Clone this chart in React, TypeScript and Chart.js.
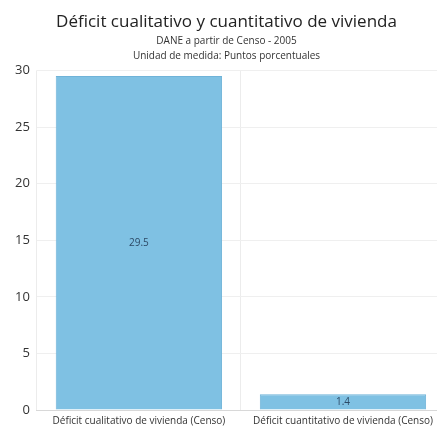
import React, { useEffect, useRef } from "react";
import { Chart, registerables } from "chart.js";

Chart.register(...registerables);

const categories = ["Déficit cualitativo de vivienda (Censo)", "Déficit cuantitativo de vivienda (Censo)"];
const values = [29.5, 1.4];
const valueLabels = ["29.5", "1.4"];
const titleText = "Déficit cualitativo y cuantitativo de vivienda";
const subtitleLines = ["DANE a partir de Censo - 2005", "Unidad de medida: Puntos porcentuales"];

const labelPlugin = {
  id: "barLabels",
  afterDatasetsDraw(chart: any) {
    const ctx = chart.ctx;
    const meta = chart.getDatasetMeta(0);
    ctx.save();
    ctx.font = "10px 'Open Sans', sans-serif";
    ctx.fillStyle = "#2d4a66";
    ctx.textAlign = "center";
    ctx.textBaseline = "middle";
    meta.data.forEach((bar: any, i: number) => {
      const y = (bar.y + bar.base) / 2;
      ctx.fillText(valueLabels[i], bar.x, y);
    });
    ctx.restore();
  },
};

export default function App() {
  const ref = useRef<HTMLCanvasElement>(null);
  useEffect(() => {
    const chart = new Chart(ref.current!, {
      type: "bar",
      data: {
        labels: categories,
        datasets: [
          {
            data: values,
            backgroundColor: "#7fc1e3",
            borderColor: "#6fb3d8",
            borderWidth: 1,
            barPercentage: 0.815,
            categoryPercentage: 1,
          },
        ],
      },
      options: {
        animation: false,
        responsive: false,
        maintainAspectRatio: false,
        layout: { padding: { left: 0, right: 0, top: 0, bottom: 0 } },
        plugins: {
          legend: { display: false },
          tooltip: { enabled: false },
          title: {
            display: true,
            text: titleText,
            color: "#222",
            font: { family: "'Open Sans', sans-serif", size: 17, weight: "normal" },
            padding: { top: 4, bottom: 0 },
          },
          subtitle: {
            display: true,
            text: subtitleLines,
            color: "#333",
            font: { family: "'Open Sans', sans-serif", size: 10, lineHeight: 1.5 },
            padding: { top: 1, bottom: 7 },
          },
        },
        scales: {
          x: {
            grid: { offset: true, color: "#ececec", drawTicks: false },
            border: { color: "#d8d8d8" },
            ticks: {
              color: "#333",
              font: { family: "'Open Sans', sans-serif", size: 10 },
              maxRotation: 0,
              padding: 5,
            },
          },
          y: {
            min: 0,
            max: 30,
            grid: { color: "#efefef", drawTicks: false },
            border: { display: false },
            ticks: {
              stepSize: 5,
              color: "#333",
              font: { family: "'Open Sans', sans-serif", size: 13 },
              padding: 7,
            },
          },
        },
      },
      plugins: [labelPlugin],
    });
    return () => chart.destroy();
  }, []);
  return <canvas ref={ref} width={437} height={424} style={{ display: "block" }} />;
}
